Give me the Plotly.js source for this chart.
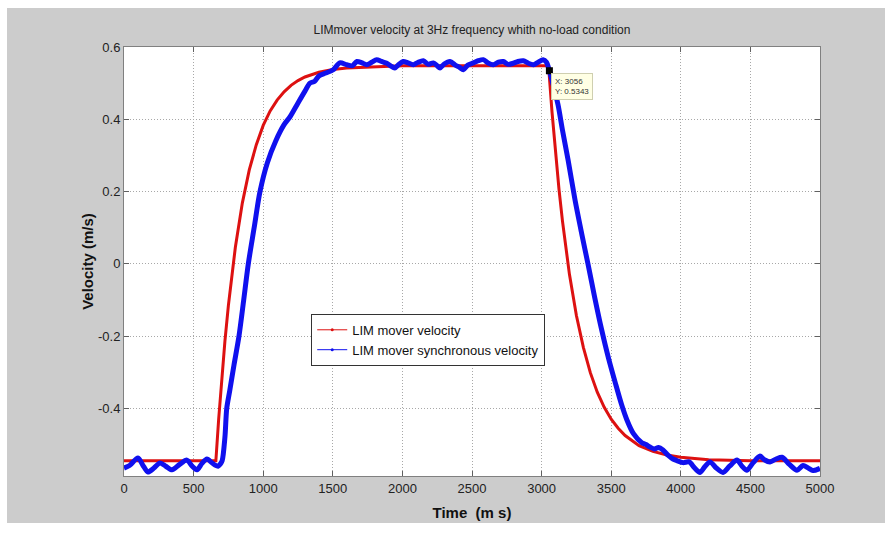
<!DOCTYPE html>
<html>
<head>
<meta charset="utf-8">
<script src="https://cdn.plot.ly/plotly-3.0.1.min.js"></script>
<style>
  html, body { margin: 0; padding: 0; background: #ffffff; }
  #bg { position: absolute; left: 7px; top: 8px; width: 878px; height: 515px; background: #cccccc; }
  #chart { position: absolute; left: 0; top: 0; width: 889px; height: 533px; }
</style>
</head>
<body>
<div id="bg"></div>
<div id="chart"></div>
<script>
// ---- data ----
const redName = "LIM mover velocity";
const blueName = "LIM mover synchronous velocity";

const redT = [0, 200, 400, 600, 660, 680, 700, 725, 750, 775, 800, 850, 900, 950, 1000, 1050, 1100, 1150, 1200, 1250, 1300, 1400, 1500, 1600, 1800, 2000, 2500, 3000, 3050, 3075, 3100, 3125, 3150, 3200, 3250, 3300, 3350, 3400, 3450, 3500, 3550, 3600, 3700, 3800, 3900, 4000, 4200, 4500, 5000];
const redV = [-0.545, -0.545, -0.545, -0.545, -0.545, -0.430, -0.328, -0.214, -0.115, -0.029, 0.046, 0.168, 0.260, 0.329, 0.383, 0.423, 0.453, 0.476, 0.494, 0.507, 0.517, 0.530, 0.538, 0.542, 0.546, 0.548, 0.548, 0.548, 0.548, 0.419, 0.306, 0.206, 0.118, -0.029, -0.143, -0.231, -0.301, -0.355, -0.397, -0.430, -0.455, -0.475, -0.503, -0.519, -0.529, -0.535, -0.542, -0.545, -0.545];

const blueT = [0, 40, 100, 140, 172, 215, 259, 300, 345, 400, 452, 490, 524, 560, 596, 630, 654, 676, 690, 705, 725, 738, 760, 790, 826, 860, 893, 935, 977, 1030, 1090, 1150, 1193, 1250, 1300, 1336, 1370, 1400, 1450, 1503, 1550, 1600, 1640, 1673, 1710, 1744, 1780, 1815, 1850, 1888, 1915, 1945, 1975, 2006, 2040, 2078, 2110, 2150, 2185, 2222, 2250, 2270, 2300, 2342, 2380, 2410, 2438, 2470, 2510, 2545, 2581, 2615, 2653, 2690, 2725, 2760, 2797, 2830, 2869, 2905, 2941, 2975, 3011, 3035, 3056, 3080, 3118, 3150, 3190, 3240, 3290, 3333, 3380, 3430, 3480, 3530, 3575, 3613, 3660, 3720, 3750, 3779, 3810, 3840, 3872, 3910, 3944, 3975, 4016, 4060, 4100, 4138, 4175, 4210, 4255, 4303, 4350, 4404, 4440, 4475, 4520, 4569, 4600, 4641, 4685, 4727, 4780, 4835, 4878, 4915, 4950, 5000];
const blueV = [-0.565, -0.558, -0.537, -0.560, -0.576, -0.565, -0.551, -0.560, -0.570, -0.555, -0.543, -0.560, -0.570, -0.552, -0.540, -0.550, -0.557, -0.560, -0.555, -0.545, -0.48, -0.40, -0.35, -0.28, -0.20, -0.10, 0.00, 0.10, 0.20, 0.28, 0.34, 0.385, 0.407, 0.445, 0.478, 0.50, 0.505, 0.52, 0.528, 0.537, 0.556, 0.551, 0.548, 0.560, 0.556, 0.551, 0.558, 0.565, 0.560, 0.555, 0.548, 0.542, 0.552, 0.560, 0.556, 0.551, 0.557, 0.562, 0.552, 0.556, 0.548, 0.542, 0.553, 0.560, 0.550, 0.544, 0.537, 0.550, 0.556, 0.562, 0.565, 0.556, 0.551, 0.558, 0.560, 0.552, 0.555, 0.560, 0.562, 0.555, 0.551, 0.558, 0.565, 0.558, 0.534, 0.50, 0.44, 0.37, 0.288, 0.177, 0.08, 0.00, -0.09, -0.18, -0.26, -0.33, -0.39, -0.432, -0.470, -0.495, -0.500, -0.507, -0.512, -0.508, -0.515, -0.530, -0.540, -0.545, -0.550, -0.548, -0.565, -0.577, -0.560, -0.548, -0.565, -0.577, -0.560, -0.543, -0.560, -0.571, -0.550, -0.532, -0.542, -0.548, -0.540, -0.535, -0.555, -0.571, -0.558, -0.565, -0.572, -0.566];

const tipX = [3056];
const tipY = [0.5343];

const xTicks = [0, 500, 1000, 1500, 2000, 2500, 3000, 3500, 4000, 4500, 5000];
const xTickText = ["0", "500", "1000", "1500", "2000", "2500", "3000", "3500", "4000", "4500", "5000"];
const yTicks = [-0.4, -0.2, 0, 0.2, 0.4, 0.6];
const yTickText = ["-0.4", "-0.2", "0", "0.2", "0.4", "0.6"];

const titleText = "LIMmover velocity at 3Hz frequency whith no-load condition";
const xTitle = "Time  (m s)";
const yTitle = "Velocity (m/s)";

// ---- traces ----
const RED = "#dd1111";
const BLUE = "#1010ee";

const traces = [
  { x: redT, y: redV, mode: "lines", line: { color: RED, width: 3 }, showlegend: false, hoverinfo: "skip" },
  { x: blueT, y: blueV, mode: "lines", line: { color: BLUE, width: 5, shape: "spline", smoothing: 0.8 }, showlegend: false, hoverinfo: "skip" },
  { x: tipX, y: tipY, mode: "markers", marker: { symbol: "square", size: 7, color: "#000000" }, showlegend: false, hoverinfo: "skip" },
  // legend-only entries (thin line with small dot, as in the reference legend)
  { x: [null], y: [null], name: redName, mode: "lines+markers", line: { color: RED, width: 1 }, marker: { color: RED, size: 3 } },
  { x: [null], y: [null], name: blueName, mode: "lines+markers", line: { color: BLUE, width: 1 }, marker: { color: BLUE, size: 3 } }
];

const axisCommon = {
  showline: true, linecolor: "#808080", linewidth: 1, mirror: "allticks",
  ticks: "inside", ticklen: 5, tickcolor: "#606060", tickwidth: 1,
  showgrid: true, gridcolor: "#a8a8a8", griddash: "1px,2px", gridwidth: 1,
  zeroline: false,
  tickfont: { family: "Liberation Sans, Arial, sans-serif", size: 13, color: "#222222" }
};

const layout = {
  width: 889, height: 533,
  margin: { l: 124, r: 69, t: 47, b: 57 },
  paper_bgcolor: "rgba(0,0,0,0)",
  plot_bgcolor: "#ffffff",
  font: { family: "Liberation Sans, Arial, sans-serif", color: "#222222" },
  title: {
    text: titleText,
    font: { family: "Liberation Sans, Arial, sans-serif", size: 12, color: "#222222" },
    xref: "paper", x: 0.5, xanchor: "center",
    yref: "container", y: 1 - 30 / 533, yanchor: "middle"
  },
  xaxis: Object.assign({}, axisCommon, {
    range: [0, 5000], tickmode: "array", tickvals: xTicks, ticktext: xTickText,
    title: { text: xTitle, font: { family: "Liberation Sans, Arial, sans-serif", size: 15, color: "#111111", weight: "bold" }, standoff: 12 }
  }),
  yaxis: Object.assign({}, axisCommon, {
    range: [-0.587, 0.6], tickmode: "array", tickvals: yTicks, ticktext: yTickText,
    title: { text: yTitle, font: { family: "Liberation Sans, Arial, sans-serif", size: 15, color: "#111111", weight: "bold" }, standoff: 0 }
  }),
  legend: {
    x: 0.269, y: 0.378, xanchor: "left", yanchor: "top",
    bgcolor: "#ffffff", bordercolor: "#333333", borderwidth: 1,
    font: { family: "Liberation Sans, Arial, sans-serif", size: 13, color: "#111111" },
    tracegroupgap: 0
  },
  annotations: [{
    x: tipX[0], y: tipY[0], xref: "x", yref: "y",
    text: "X: " + tipX[0] + "<br>Y: " + tipY[0],
    showarrow: false, xanchor: "left", yanchor: "top", xshift: 2, yshift: -2,
    align: "left", bgcolor: "#ffffe4", bordercolor: "#cfcfb0", borderwidth: 1, borderpad: 3,
    font: { family: "Liberation Sans, Arial, sans-serif", size: 8, color: "#333333" }
  }]
};

Plotly.newPlot("chart", traces, layout, { displayModeBar: false, staticPlot: true });
</script>
</body>
</html>
